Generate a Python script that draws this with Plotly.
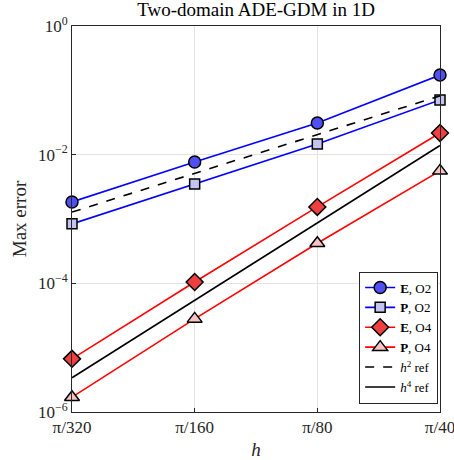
import plotly.graph_objects as go
import math

h_labels = ["π/320", "π/160", "π/80", "π/40"]
h_vals = [math.pi / 320, math.pi / 160, math.pi / 80, math.pi / 40]

err_E_O2 = [1.84e-3, 7.7e-3, 3.1e-2, 1.73e-1]
err_P_O2 = [8.4e-4, 3.5e-3, 1.47e-2, 7.1e-2]
err_E_O4 = [6.7e-6, 1.05e-4, 1.54e-3, 2.17e-2]
err_P_O4 = [1.7e-6, 2.8e-5, 4.2e-4, 5.6e-3]
ref_h2 = [1.28e-3, 5.12e-3, 2.05e-2, 8.2e-2]
ref_h4 = [3.4e-6, 5.44e-5, 8.7e-4, 1.39e-2]

y_tickvals = [1e-6, 1e-4, 1e-2, 1e0]
y_ticktext = ["10<sup>−6</sup>", "10<sup>−4</sup>", "10<sup>−2</sup>", "10<sup>0</sup>"]

FONT = "Liberation Serif"

fig = go.Figure()

def add(y, name, line_color, dash, symbol=None, fill=None, size=12):
    mode = "lines+markers" if symbol else "lines"
    marker = dict(symbol=symbol, color=fill, size=size,
                  line=dict(color="black", width=1.5)) if symbol else None
    fig.add_trace(go.Scatter(x=h_vals, y=y, name=name, mode=mode,
                             line=dict(color=line_color, width=1.6, dash=dash),
                             marker=marker, cliponaxis=False))

add(err_E_O2, "<b>E</b>, O2", "#0000ff", "solid", "circle", "#5050f2", 12)
add(err_P_O2, "<b>P</b>, O2", "#0000ff", "solid", "square", "#c4c4f0", 10)
add(err_E_O4, "<b>E</b>, O4", "#ff0000", "solid", "diamond", "#ee4040", 13)
add(err_P_O4, "<b>P</b>, O4", "#ff0000", "solid", "triangle-up", "#f6c4c4", 13)
add(ref_h2, "<i>h</i><sup>2</sup> ref", "black", "dash")
add(ref_h4, "<i>h</i><sup>4</sup> ref", "black", "solid")

axis_common = dict(showline=True, linecolor="#262626", linewidth=1, mirror=True,
                   ticks="inside", ticklen=4, tickcolor="#262626",
                   showgrid=True, gridcolor="#e3e3e3", gridwidth=1,
                   zeroline=False, automargin=False, ticklabeloverflow="allow",
                   tickfont=dict(family=FONT, size=17, color="#262626"))

fig.update_layout(
    width=454, height=460, autosize=False,
    margin=dict(l=72, r=14, t=26, b=48, pad=0),
    paper_bgcolor="white", plot_bgcolor="white",
    font=dict(family=FONT, size=15, color="#262626"),
    title=dict(text="Two-domain ADE-GDM in 1D", x=0.5640, xanchor="center",
               y=0.995, yanchor="top", font=dict(family=FONT, size=19, color="black")),
    xaxis=dict(type="log", range=[math.log10(h_vals[0]), math.log10(h_vals[-1])],
               tickvals=h_vals, ticktext=h_labels,
               title=dict(text="<i>h</i>", font=dict(family=FONT, size=19), standoff=8),
               **axis_common),
    yaxis=dict(type="log", range=[-6, 0], tickvals=y_tickvals, ticktext=y_ticktext,
               title=dict(text="Max error", font=dict(family=FONT, size=19), standoff=6),
               **axis_common),
    legend=dict(x=0.995, y=0.022, xanchor="right", yanchor="bottom",
                bgcolor="white", bordercolor="#262626", borderwidth=1,
                font=dict(family=FONT, size=13, color="black"),
                itemwidth=30, tracegroupgap=0),
    showlegend=True,
)

fig.write_html("out.html")
